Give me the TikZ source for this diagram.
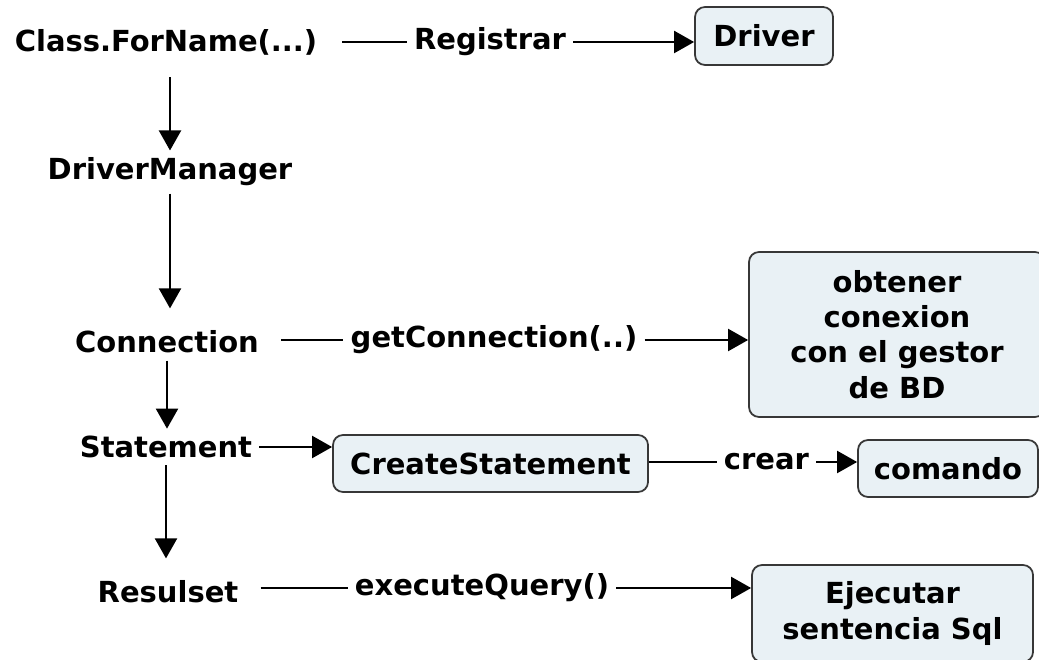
\documentclass[tikz,border=0pt]{standalone}
\usepackage{fontspec}
\setmainfont{DejaVu Sans}
\usetikzlibrary{positioning,arrows.meta}
\definecolor{boxfill}{RGB}{233,241,245}
\definecolor{boxline}{RGB}{55,55,55}
\tikzset{
  flowarrow/.style={-{Triangle[length=4mm, width=4.4mm]}, line width=1.2pt},
  flowline/.style={line width=1.2pt},
  term/.style={font=\bfseries\fontsize{16.5}{20}\selectfont, inner sep=4pt},
  classbox/.style={draw=boxline, line width=1pt, rounded corners=2mm, fill=boxfill, font=\bfseries\fontsize{16.5}{20}\selectfont, align=center, inner sep=0pt}
}

\begin{document}
\begin{tikzpicture}
      \useasboundingbox (0,0) rectangle (20.78,-13.2);
      % left column
      \node[term] (cfn) at (3.32,-0.84) {Class.ForName(...)};
      \node[term] (dm) at (3.4,-3.44) {DriverManager};
      \node[term] (conn) at (3.34,-6.84) {Connection};
      \node[term] (stmt) at (3.32,-8.94) {Statement};
      \node[term] (res) at (3.36,-11.84) {Resulset};
      % labels on the lines
      \node[term] (reg) at (9.8,-0.84) {Registrar};
      \node[term] (getc) at (9.88,-6.8) {getConnection(..)};
      \node[term] (crear) at (15.33,-9.24) {crear};
      \node[term] (exq) at (9.64,-11.76) {executeQuery()};
      % boxes
      \node[classbox, minimum width=2.76cm, minimum height=1.16cm] (drv) at (15.28,-0.72) {Driver};
      \node[classbox, minimum width=5.92cm, minimum height=3.3cm] (obt) at (17.94,-6.69) {obtener\\conexion\\con el gestor\\de BD};
      \node[classbox, minimum width=6.3cm, minimum height=1.14cm] (cst) at (9.81,-9.27) {CreateStatement};
      \node[classbox, minimum width=3.6cm, minimum height=1.14cm] (cmd) at (18.96,-9.37) {comando};
      \node[classbox, minimum width=5.62cm, minimum height=1.94cm] (ejec) at (17.85,-12.27) {Ejecutar\\sentencia Sql};
      % vertical flow
      \draw[flowarrow, shorten <=0.3cm] ([xshift=0.08cm]cfn.south) -- ([xshift=0.08cm]cfn.south |- dm.north);
      \draw[flowarrow, shorten >=0.3cm] (dm.south) -- (dm.south |- conn.north);
      \draw[flowarrow] (conn.south) -- (conn.south |- stmt.north);
      \draw[flowarrow, shorten >=0.3cm] (stmt.south) -- (stmt.south |- res.north);
      % horizontal flow
      \draw[flowline, shorten <=0.35cm] (cfn) -- (reg);
      \draw[flowarrow] (reg.east) -- (reg.east -| drv.west);
      \draw[flowline, shorten <=0.3cm] (getc.west -| conn.east) -- (getc.west);
      \draw[flowarrow] (getc.east) -- (getc.east -| obt.west);
      \draw[flowarrow] (stmt.east) -- (stmt.east -| cst.west);
      \draw[flowline] (cst.east |- crear.west) -- (crear.west);
      \draw[flowarrow] (crear.east) -- (crear.east -| cmd.west);
      \draw[flowline, shorten <=0.3cm] (exq.west -| res.east) -- (exq.west);
      \draw[flowarrow] (exq.east) -- (exq.east -| ejec.west);
    \end{tikzpicture}
\end{document}
